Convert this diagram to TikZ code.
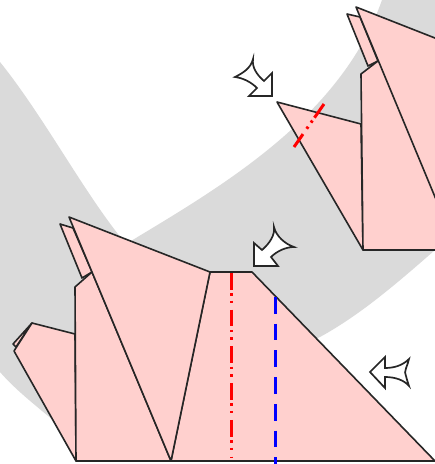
\documentclass[tikz,border=0pt]{standalone}
\usetikzlibrary{positioning}
\definecolor{paper}{HTML}{FFD0CE}
\definecolor{band}{HTML}{DADADA}
\definecolor{foldline}{HTML}{262626}
\tikzset{
	flap/.style={fill=paper, draw=foldline, line width=1.6pt, line join=round},
	crease/.style={draw=foldline, line width=1.8pt},
	valley/.style={draw=blue, line width=3pt, dash pattern=on 16.7pt off 10pt},
	mountain/.style={draw=red, line width=3pt, dash pattern=on 16.7pt off 3.5pt on 2.5pt off 5pt on 2.5pt off 6.5pt},
	turn/.style={fill=white, draw=foldline, line width=1.7pt, line join=miter}
}

\begin{document}
\begin{tikzpicture}[x=1pt, y=-1pt]
	\useasboundingbox (0,0) rectangle (435,464);
	\clip (0,0) rectangle (435,464);
	\fill[white] (0,0) rectangle (435,464);
	\fill[band] (0,62) .. controls (45,118) and (85,195) .. (126,244)
		.. controls (215,190) and (340,120) .. (382,0)
		-- (435,0) -- (435,250)
		.. controls (395,285) and (360,315) .. (320,337)
		-- (76,440) .. controls (45,412) and (20,395) .. (0,372) -- cycle;

	% upper model
	\path[flap] (347,14) -- (368,66) -- (378,61) -- (360,17) -- cycle;
	\path[flap] (277,102) -- (361,124) -- (363,250) -- cycle;
	\path[flap] (361,74) -- (378,61) -- (437,61) -- (437,250) -- (363,250) -- cycle;
	\path[flap] (356,7) -- (440,40) -- (440,209) -- cycle;
	\draw[mountain] (324,104) -- (294,147);

	% lower model
	\path[flap] (60,224) -- (82,278) -- (92,272) -- (73,228) -- cycle;
	\path[flap] (32,323) -- (13,344) -- (16,347) -- cycle;
	\path[flap] (32,323) -- (75,334) -- (76,461) -- (14,351) -- cycle;
	\path[flap] (75,287) -- (92,272) -- (171,461) -- (76,461) -- cycle;
	\path[flap] (171,461) -- (210,272) -- (252,272) -- (435,461) -- cycle;
	\path[flap] (69,217) -- (210,272) -- (171,461) -- cycle;
	\draw[crease] (76,461) -- (435,461);
	\draw[mountain] (231,273) -- (231,457);
	\draw[valley] (275,297) -- (275,464);

	% turn arrows
	\draw[turn] (272,96) -- (272,73) -- (264,81) .. controls (256,74) and (252,67) .. (253,59)
		.. controls (251,68) and (243,73) .. (235,77)
		.. controls (243,78) and (251,82) .. (257,88) -- (249,96) -- cycle;
	\draw[turn] (254,266) -- (254,243) -- (262,250) .. controls (270,243) and (275,235) .. (274,227)
		.. controls (276,236) and (285,244) .. (294,247)
		.. controls (286,247) and (277,251) .. (271,257) -- (278,266) -- cycle;
	\draw[turn] (370,372) -- (385,357) -- (385,368) .. controls (395,368) and (403,365) .. (409,359)
		.. controls (408,365) and (403,372) .. (406,376)
		.. controls (407,380) and (408,383) .. (409,386)
		.. controls (404,380) and (395,377) .. (385,377) -- (385,388) -- cycle;
\end{tikzpicture}
\end{document}
